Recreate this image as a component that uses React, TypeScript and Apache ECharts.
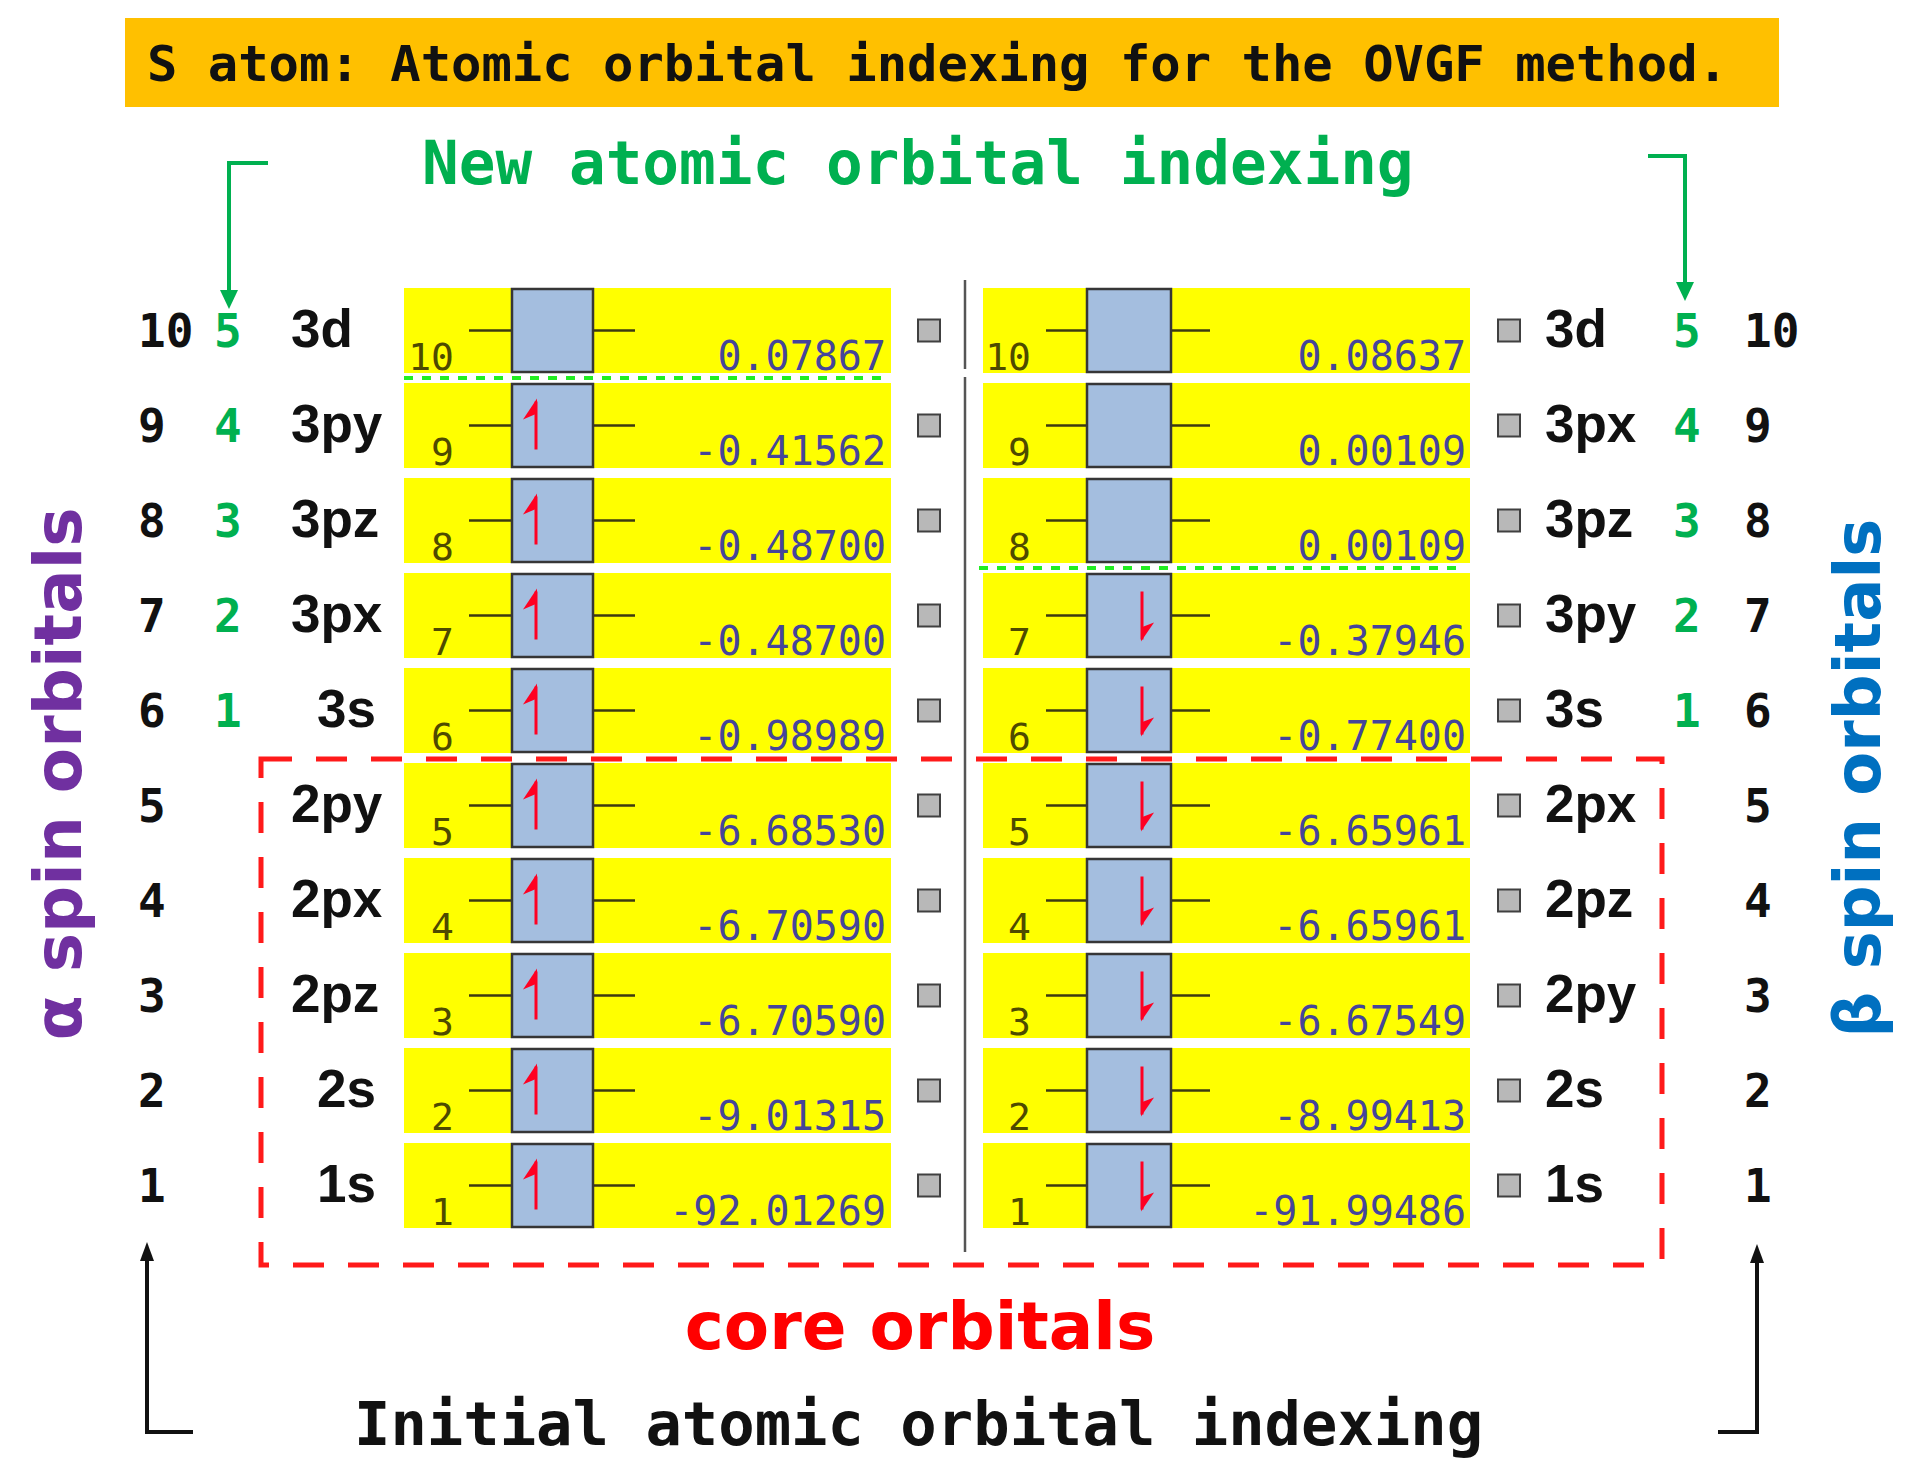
import { useEffect, useRef } from "react";
import * as echarts from "echarts";

// orbital index (bottom to top)
const orbitalRows = [1, 2, 3, 4, 5, 6, 7, 8, 9, 10];
// new OVGF indexing (only valence rows)
const newIndex = [null, null, null, null, null, 1, 2, 3, 4, 5];

const alphaOrbitals = ["1s", "2s", "2pz", "2px", "2py", "3s", "3px", "3pz", "3py", "3d"];
const alphaEnergies = [-92.01269, -9.01315, -6.7059, -6.7059, -6.6853, -0.98989, -0.487, -0.487, -0.41562, 0.07867];
const alphaOccupied = [1, 1, 1, 1, 1, 1, 1, 1, 1, 0];

const betaOrbitals = ["1s", "2s", "2py", "2pz", "2px", "3s", "3py", "3pz", "3px", "3d"];
const betaEnergies = [-91.99486, -8.99413, -6.67549, -6.65961, -6.65961, -0.774, -0.37946, 0.00109, 0.00109, 0.08637];
const betaOccupied = [1, 1, 1, 1, 1, 1, 1, 0, 0, 0];

const MONO = "'DejaVu Sans Mono', monospace";
const SANS = "'DejaVu Sans', sans-serif";
const LABEL = "'Liberation Sans', Arial, sans-serif";

interface PanelLayout {
  left: number;
  width: number;
  boxL: number;
  boxR: number;
  stubL: number;
  stubR: number;
  arrowX: number;
  up: boolean;
  idxRight: number;
  energyRight: number;
  squareL: number;
  labelX: number;
  labelSX: number;
  greenX: number;
  blackX: number;
  dotL: number;
  dotR: number;
}

const alphaLayout: PanelLayout = {
  left: 404, width: 487, boxL: 108, boxR: 189, stubL: 65, stubR: 231, arrowX: 132, up: true,
  idxRight: 50, energyRight: 482, squareL: 514, labelX: -113, labelSX: -87, greenX: -190, blackX: -266,
  dotL: 0, dotR: 478,
};

const betaLayout: PanelLayout = {
  left: 983, width: 487, boxL: 104, boxR: 188, stubL: 63, stubR: 227, arrowX: 159, up: false,
  idxRight: 48, energyRight: 483, squareL: 515, labelX: 562, labelSX: 562, greenX: 690, blackX: 761,
  dotL: -4, dotR: 480,
};

function makeRenderItem(p: PanelLayout, names: string[], occ: number[]) {
  return (params: any, api: any) => {
    const i = params.dataIndex;
    const cat = api.value(1);
    const energy = api.value(2);
    const [, yc] = api.coord([0, cat]);
    const band = api.size([0, 1])[1];
    const h = band - 10;
    const top = yc - h / 2;
    const X = (v: number) => api.coord([v, cat])[0];

    const children: any[] = [
      { type: "rect", shape: { x: X(0), y: top, width: X(p.width) - X(0), height: h }, style: { fill: "#ffff00" } },
      { type: "line", shape: { x1: X(p.stubL), y1: yc, x2: X(p.boxL), y2: yc }, style: { stroke: "#3d3a10", lineWidth: 2.5 } },
      { type: "line", shape: { x1: X(p.boxR), y1: yc, x2: X(p.stubR), y2: yc }, style: { stroke: "#3d3a10", lineWidth: 2.5 } },
      {
        type: "rect",
        shape: { x: X(p.boxL), y: top + 1, width: X(p.boxR) - X(p.boxL), height: h - 2 },
        style: { fill: "#a4bedf", stroke: "#363636", lineWidth: 2.5 },
      },
      {
        type: "text",
        style: {
          text: String(orbitalRows[i]), x: X(p.idxRight), y: top + h + 3, align: "right", verticalAlign: "bottom",
          font: `38px ${MONO}`, fill: "#4e4a00",
        },
      },
      {
        type: "text",
        style: {
          text: energy.toFixed(5), x: X(p.energyRight), y: top + h + 3, align: "right", verticalAlign: "bottom",
          font: `40px ${MONO}`, fill: "#45459a",
        },
      },
      {
        type: "rect",
        shape: { x: X(p.squareL), y: yc - 11, width: 22, height: 22 },
        style: { fill: "#b8b8b8", stroke: "#404040", lineWidth: 2 },
      },
      {
        type: "text",
        style: {
          text: names[i], x: X(names[i].endsWith("s") ? p.labelSX : p.labelX), y: yc - 2, align: "left", verticalAlign: "middle",
          font: `bold 53px ${LABEL}`, fill: "#111111",
        },
      },
      {
        type: "text",
        style: {
          text: String(orbitalRows[i]), x: X(p.blackX), y: yc, align: "left", verticalAlign: "middle",
          font: `bold 46px ${MONO}`, fill: "#111111",
        },
      },
    ];

    if (newIndex[i] !== null) {
      children.push({
        type: "text",
        style: {
          text: String(newIndex[i]), x: X(p.greenX), y: yc, align: "left", verticalAlign: "middle",
          font: `bold 46px ${MONO}`, fill: "#00b050",
        },
      });
    }

    if (occ[i]) {
      const ax = X(p.arrowX);
      if (p.up) {
        children.push(
          { type: "line", shape: { x1: ax, y1: yc - 24, x2: ax, y2: yc + 24 }, style: { stroke: "#ff0022", lineWidth: 3 } },
          { type: "polygon", shape: { points: [[ax + 1, yc - 27], [ax - 13, yc - 6], [ax + 1, yc - 12]] }, style: { fill: "#ff0022" } },
        );
      } else {
        children.push(
          { type: "line", shape: { x1: ax, y1: yc - 24, x2: ax, y2: yc + 24 }, style: { stroke: "#ff0022", lineWidth: 3 } },
          { type: "polygon", shape: { points: [[ax - 1, yc + 26], [ax + 12, yc + 7], [ax - 1, yc + 12]] }, style: { fill: "#ff0022" } },
        );
      }
      // dotted line separating occupied and virtual orbitals
      if (i + 1 >= occ.length || !occ[i + 1]) {
        const yl = yc - band / 2;
        children.push({
          type: "line",
          shape: { x1: X(p.dotL), y1: yl, x2: X(p.dotR), y2: yl },
          style: { stroke: "#22ee22", lineWidth: 4, lineDash: [9, 9] },
        });
      }
    }

    return { type: "group", children };
  };
}

export default function App() {
  const chartRef = useRef<HTMLDivElement>(null);

  useEffect(() => {
    if (!chartRef.current) return;
    document.body.style.margin = "0";
    document.body.style.overflow = "hidden";

    const chart = echarts.init(chartRef.current, null, { renderer: "svg" });

    const gridTop = 283;
    const gridHeight = 950;
    const rowCats = orbitalRows.map(String);

    const option: echarts.EChartsOption = {
      animation: false,
      backgroundColor: "#ffffff",
      grid: [
        { left: alphaLayout.left, width: alphaLayout.width, top: gridTop, height: gridHeight },
        { left: betaLayout.left, width: betaLayout.width, top: gridTop, height: gridHeight },
      ],
      xAxis: [
        { type: "value", gridIndex: 0, min: 0, max: alphaLayout.width, show: false },
        { type: "value", gridIndex: 1, min: 0, max: betaLayout.width, show: false },
      ],
      yAxis: [
        { type: "category", gridIndex: 0, data: rowCats, show: false },
        { type: "category", gridIndex: 1, data: rowCats, show: false },
      ],
      series: [
        {
          type: "custom",
          name: "alpha",
          xAxisIndex: 0,
          yAxisIndex: 0,
          clip: false,
          silent: true,
          renderItem: makeRenderItem(alphaLayout, alphaOrbitals, alphaOccupied) as any,
          data: alphaEnergies.map((e, i) => [0, i, e]),
        },
        {
          type: "custom",
          name: "beta",
          xAxisIndex: 1,
          yAxisIndex: 1,
          clip: false,
          silent: true,
          renderItem: makeRenderItem(betaLayout, betaOrbitals, betaOccupied) as any,
          data: betaEnergies.map((e, i) => [0, i, e]),
        },
      ],
      graphic: [
        // title banner
        { type: "rect", shape: { x: 125, y: 18, width: 1654, height: 89 }, style: { fill: "#ffc000" } },
        {
          type: "text", x: 147, y: 63,
          style: { text: "S atom: Atomic orbital indexing for the OVGF method.", font: `bold 50.5px ${MONO}`, fill: "#111111", align: "left", verticalAlign: "middle" },
        },
        {
          type: "text", x: 422, y: 162,
          style: { text: "New atomic orbital indexing", font: `bold 61px ${MONO}`, fill: "#00b050", align: "left", verticalAlign: "middle" },
        },
        // green brackets
        { type: "polyline", shape: { points: [[268, 163], [229, 163], [229, 292]] }, style: { stroke: "#00b050", lineWidth: 4, fill: "none" } },
        { type: "polygon", shape: { points: [[220, 290], [238, 290], [229, 309]] }, style: { fill: "#00b050" } },
        { type: "polyline", shape: { points: [[1648, 156], [1685, 156], [1685, 284]] }, style: { stroke: "#00b050", lineWidth: 4, fill: "none" } },
        { type: "polygon", shape: { points: [[1676, 282], [1694, 282], [1685, 301]] }, style: { fill: "#00b050" } },
        // separator between alpha and beta
        { type: "line", shape: { x1: 965, y1: 280, x2: 965, y2: 369 }, style: { stroke: "#555555", lineWidth: 2.5 } },
        { type: "line", shape: { x1: 965, y1: 377, x2: 965, y2: 1252 }, style: { stroke: "#555555", lineWidth: 2.5 } },
        // core orbitals box
        {
          type: "rect", z: 100,
          shape: { x: 261, y: 759, width: 1401, height: 506 },
          style: { fill: "transparent", stroke: "#ff1a1a", lineWidth: 5, lineDash: [31, 24] },
        },
        {
          type: "text", x: 920, y: 1326,
          style: { text: "core orbitals", font: `bold 66px ${SANS}`, fill: "#ff0000", align: "center", verticalAlign: "middle" },
        },
        // black brackets
        { type: "polyline", shape: { points: [[193, 1432], [147, 1432], [147, 1258]] }, style: { stroke: "#111111", lineWidth: 4, fill: "none" } },
        { type: "polygon", shape: { points: [[140, 1261], [154, 1261], [147, 1242]] }, style: { fill: "#111111" } },
        { type: "polyline", shape: { points: [[1718, 1432], [1757, 1432], [1757, 1260]] }, style: { stroke: "#111111", lineWidth: 4, fill: "none" } },
        { type: "polygon", shape: { points: [[1750, 1263], [1764, 1263], [1757, 1244]] }, style: { fill: "#111111" } },
        {
          type: "text", x: 354, y: 1424,
          style: { text: "Initial atomic orbital indexing", font: `bold 60.5px ${MONO}`, fill: "#111111", align: "left", verticalAlign: "middle" },
        },
        // spin labels
        {
          type: "text", x: 58, y: 774, rotation: Math.PI / 2,
          style: { text: "α spin orbitals", font: `bold 66px ${SANS}`, fill: "#7030a0", align: "center", verticalAlign: "middle" },
        },
        {
          type: "text", x: 1858, y: 778, rotation: Math.PI / 2,
          style: { text: "β spin orbitals", font: `bold 64px ${SANS}`, fill: "#0070c0", align: "center", verticalAlign: "middle" },
        },
      ],
    };

    chart.setOption(option);

    const handleResize = () => chart.resize();
    window.addEventListener("resize", handleResize);
    return () => {
      window.removeEventListener("resize", handleResize);
      chart.dispose();
    };
  }, []);

  return <div ref={chartRef} style={{ width: "1917px", height: "1468px" }} />;
}
